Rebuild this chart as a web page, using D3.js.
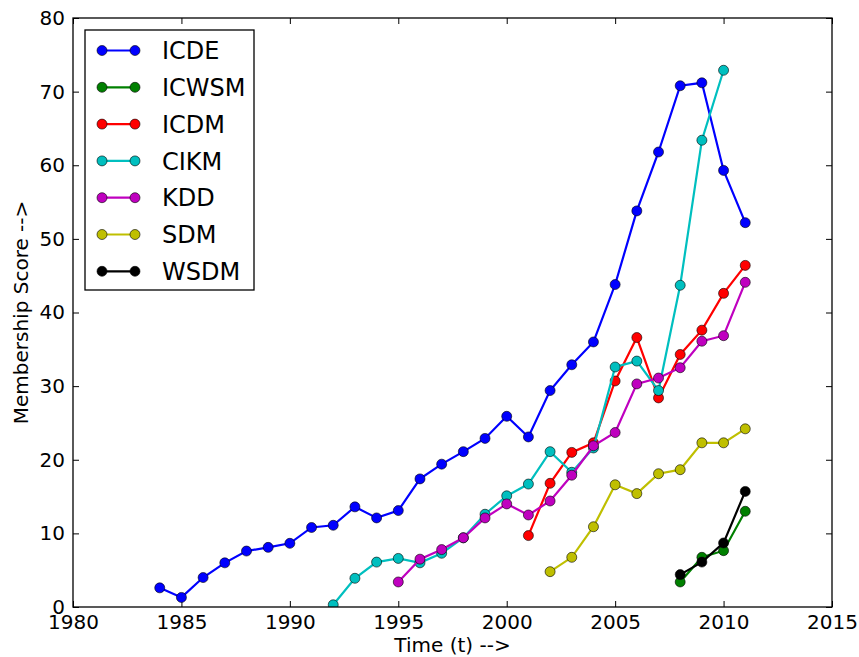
<!DOCTYPE html>
<html>
<meta charset="utf-8">
<style>
  body { margin: 0; background: #fff; }
  svg { font-family: "DejaVu Sans", sans-serif; }
</style>
<body>
  <svg></svg>
</body>
<script src="https://d3js.org/d3.v7.min.js"></script>
<script>

  // series data (year, membership score)
  var icdeYears = [1984, 1985, 1986, 1987, 1988, 1989, 1990, 1991, 1992, 1993, 1994, 1995, 1996, 1997,
    1998, 1999, 2000, 2001, 2002, 2003, 2004, 2005, 2006, 2007, 2008, 2009, 2010, 2011];
  var icdeValues = [2.6, 1.3, 4.0, 6.0, 7.6, 8.1, 8.65, 10.8, 11.1, 13.6, 12.1, 13.1, 17.4, 19.4,
    21.1, 22.9, 25.9, 23.1, 29.4, 32.9, 36.0, 43.8, 53.8, 61.8, 70.8, 71.2, 59.3, 52.2];

  var icwsmYears = [2008, 2009, 2010, 2011];
  var icwsmValues = [3.4, 6.75, 7.65, 13.0];

  var icdmYears = [2001, 2002, 2003, 2004, 2005, 2006, 2007, 2008, 2009, 2010, 2011];
  var icdmValues = [9.7, 16.8, 21.0, 22.3, 30.7, 36.6, 28.4, 34.3, 37.6, 42.6, 46.4];

  var cikmYears = [1992, 1993, 1994, 1995, 1996, 1997, 1998, 1999, 2000, 2001, 2002, 2003, 2004,
    2005, 2006, 2007, 2008, 2009, 2010];
  var cikmValues = [0.3, 3.9, 6.1, 6.6, 6.0, 7.3, 9.4, 12.6, 15.1, 16.7, 21.1, 18.3, 21.6,
    32.6, 33.4, 29.4, 43.7, 63.4, 72.9];

  var kddYears = [1995, 1996, 1997, 1998, 1999, 2000, 2001, 2002, 2003, 2004, 2005, 2006, 2007,
    2008, 2009, 2010, 2011];
  var kddValues = [3.4, 6.5, 7.8, 9.4, 12.1, 14.0, 12.5, 14.4, 17.9, 21.9, 23.7, 30.3, 31.1,
    32.5, 36.1, 36.85, 44.1];

  var sdmYears = [2002, 2003, 2004, 2005, 2006, 2007, 2008, 2009, 2010, 2011];
  var sdmValues = [4.8, 6.75, 10.9, 16.6, 15.4, 18.1, 18.65, 22.3, 22.3, 24.2];

  var wsdmYears = [2008, 2009, 2010, 2011];
  var wsdmValues = [4.4, 6.1, 8.7, 15.7];

  var seriesNames = ["ICDE", "ICWSM", "ICDM", "CIKM", "KDD", "SDM", "WSDM"];
  var seriesColors = ["#0000ff", "#008000", "#ff0000", "#00bfbf", "#bf00bf", "#bfbf00", "#000000"];
  var seriesYears = [icdeYears, icwsmYears, icdmYears, cikmYears, kddYears, sdmYears, wsdmYears];
  var seriesValues = [icdeValues, icwsmValues, icdmValues, cikmValues, kddValues, sdmValues, wsdmValues];

  var xTicks = [1980, 1985, 1990, 1995, 2000, 2005, 2010, 2015];
  var yTicks = [0, 10, 20, 30, 40, 50, 60, 70, 80];

  var W = 859, H = 657;
  var margin = { top: 18, right: 27, bottom: 50, left: 73 };
  var width = W - margin.left - margin.right;
  var height = H - margin.top - margin.bottom;

  var svg = d3.select("svg")
    .attr("width", W)
    .attr("height", H);

  var g = svg.append("g")
    .attr("transform", "translate(" + margin.left + "," + margin.top + ")");

  var x = d3.scaleLinear().domain([1980, 2015]).range([0, width]);
  var y = d3.scaleLinear().domain([0, 80]).range([height, 0]);

  // axes with inward ticks on all four sides
  var tickLen = 6;
  var xAxis = d3.axisBottom(x).tickValues(xTicks).tickFormat(d3.format("d"))
    .tickSizeInner(-tickLen).tickSizeOuter(0).tickPadding(8);
  var xAxisTop = d3.axisTop(x).tickValues(xTicks).tickFormat("")
    .tickSizeInner(-tickLen).tickSizeOuter(0);
  var yAxis = d3.axisLeft(y).tickValues(yTicks)
    .tickSizeInner(-tickLen).tickSizeOuter(0).tickPadding(8);
  var yAxisRight = d3.axisRight(y).tickValues(yTicks).tickFormat("")
    .tickSizeInner(-tickLen).tickSizeOuter(0);

  var axes = [
    g.append("g").attr("transform", "translate(0," + height + ")").call(xAxis),
    g.append("g").call(xAxisTop),
    g.append("g").call(yAxis),
    g.append("g").attr("transform", "translate(" + width + ",0)").call(yAxisRight)
  ];
  axes.forEach(function (a) {
    a.select(".domain").remove();
    a.selectAll("line").attr("stroke", "#000").attr("stroke-width", 1);
    a.selectAll("text").attr("font-size", 20).attr("fill", "#000")
      .attr("font-family", "DejaVu Sans, sans-serif");
  });

  // series lines + markers
  var line = d3.line().x(d => x(d[0])).y(d => y(d[1]));
  g.append("defs").append("clipPath").attr("id", "clip")
    .append("rect").attr("x", -8).attr("y", -8).attr("width", width + 16).attr("height", height + 8);

  seriesNames.forEach(function (name, i) {
    var pts = seriesYears[i].map((yr, j) => [yr, seriesValues[i][j]]);
    var sg = g.append("g").attr("clip-path", "url(#clip)");
    sg.append("path")
      .datum(pts)
      .attr("fill", "none")
      .attr("stroke", seriesColors[i])
      .attr("stroke-width", 2.2)
      .attr("d", line);
    sg.selectAll("circle")
      .data(pts)
      .enter().append("circle")
      .attr("cx", d => x(d[0]))
      .attr("cy", d => y(d[1]))
      .attr("r", 5)
      .attr("fill", seriesColors[i])
      .attr("stroke", "#000")
      .attr("stroke-width", 0.6);
  });

  // frame
  g.append("rect")
    .attr("width", width).attr("height", height)
    .attr("fill", "none").attr("stroke", "#000").attr("stroke-width", 1.3);

  // legend
  var legend = g.append("g").attr("transform", "translate(12,12)");
  legend.append("rect")
    .attr("width", 169).attr("height", 260)
    .attr("fill", "#fff").attr("stroke", "#000").attr("stroke-width", 1.3);
  seriesNames.forEach(function (name, i) {
    var ly = 20.5 + i * 36.8;
    var row = legend.append("g").attr("transform", "translate(0," + ly + ")");
    row.append("line").attr("x1", 17).attr("x2", 50)
      .attr("stroke", seriesColors[i]).attr("stroke-width", 2.2);
    [17, 50].forEach(function (cx) {
      row.append("circle").attr("cx", cx).attr("r", 5)
        .attr("fill", seriesColors[i]).attr("stroke", "#000").attr("stroke-width", 0.6);
    });
    row.append("text").attr("x", 77).attr("y", 0).attr("dy", "0.36em")
      .attr("font-size", 24).text(name);
  });

  // axis labels
  svg.append("text")
    .attr("x", margin.left + width / 2).attr("y", 652)
    .attr("text-anchor", "middle").attr("font-size", 20)
    .text("Time (t) -->");
  svg.append("text")
    .attr("transform", "translate(28," + (margin.top + height / 2) + ") rotate(-90)")
    .attr("text-anchor", "middle").attr("font-size", 20)
    .text("Membership Score -->");

</script>
</html>
